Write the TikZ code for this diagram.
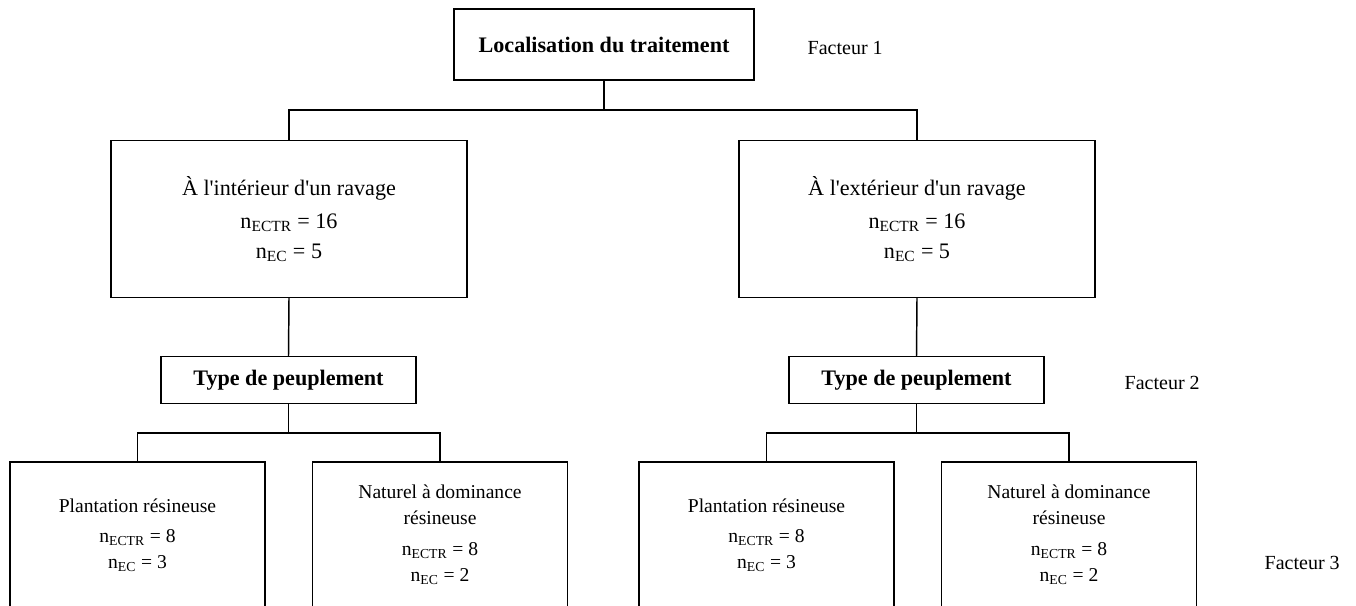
\documentclass[tikz,border=0pt]{standalone}
\usepackage{fontspec}
\setmainfont{Liberation Serif}
\usepackage{tikz}

\newcommand{\bigfont}{\fontsize{16.6}{22.5}\selectfont}
\newcommand{\smallfont}{\fontsize{14.7}{19.5}\selectfont}

\begin{document}
\begin{tikzpicture}[x=0.75pt,y=-0.75pt,line width=1.1pt,
  box/.style={draw,inner sep=0pt,align=center},
  facteur/.style={anchor=base west,inner sep=0pt,font=\fontsize{15}{18}\selectfont}]
\useasboundingbox (0,0) rectangle (1356,606);
\clip (0,0) rectangle (1356,606);

% niveau 1
\node[box,minimum width=225pt,minimum height=53pt,font=\bigfont\bfseries] (loc) at (604,44.5) {Localisation du traitement};
\node[facteur] (f1) at (807,55) {Facteur 1};

\node[box,minimum width=267pt,minimum height=117.75pt,font=\bigfont] (int) at (289,219)
  {À l\textquotesingle intérieur d\textquotesingle un ravage\\[2pt] n\textsubscript{ECTR} = 16\\ n\textsubscript{EC} = 5};
\node[box,minimum width=267pt,minimum height=117.75pt,font=\bigfont] (ext) at (917,219)
  {À l\textquotesingle extérieur d\textquotesingle un ravage\\[2pt] n\textsubscript{ECTR} = 16\\ n\textsubscript{EC} = 5};

\coordinate (j1) at (604,110);
\draw (loc.south) -- (j1);
\draw (int.north) |- (j1) -| (ext.north);

% niveau 2
\node[box,minimum width=191.25pt,minimum height=35.25pt,font=\bigfont\bfseries] (typeA) at (288.5,380) {Type de peuplement};
\node[box,minimum width=191.25pt,minimum height=35.25pt,font=\bigfont\bfseries] (typeB) at (916.5,380) {Type de peuplement};
\node[facteur] (f2) at (1124,389) {Facteur 2};

\draw (int.south) -- (typeA.north);
\draw (ext.south) -- (typeB.north);

% niveau 3
\node[box,minimum width=191.25pt,minimum height=109.5pt,font=\smallfont] (plA) at (137.5,535)
  {Plantation résineuse\\[3pt] n\textsubscript{ECTR} = 8\\ n\textsubscript{EC} = 3};
\node[box,minimum width=191.25pt,minimum height=109.5pt,font=\smallfont] (natA) at (440,535)
  {Naturel à dominance\\ résineuse\\[4pt] n\textsubscript{ECTR} = 8\\ n\textsubscript{EC} = 2};
\node[box,minimum width=191.25pt,minimum height=109.5pt,font=\smallfont] (plB) at (766.5,535)
  {Plantation résineuse\\[3pt] n\textsubscript{ECTR} = 8\\ n\textsubscript{EC} = 3};
\node[box,minimum width=191.25pt,minimum height=109.5pt,font=\smallfont] (natB) at (1069,535)
  {Naturel à dominance\\ résineuse\\[4pt] n\textsubscript{ECTR} = 8\\ n\textsubscript{EC} = 2};
\node[facteur] (f3) at (1264,569) {Facteur 3};

\coordinate (j2) at (288.5,433);
\coordinate (j3) at (916.5,433);
\draw (typeA.south) -- (j2);
\draw (typeB.south) -- (j3);
\draw (plA.north) |- (j2) -| (natA.north);
\draw (plB.north) |- (j3) -| (natB.north);

\end{tikzpicture}
\end{document}
